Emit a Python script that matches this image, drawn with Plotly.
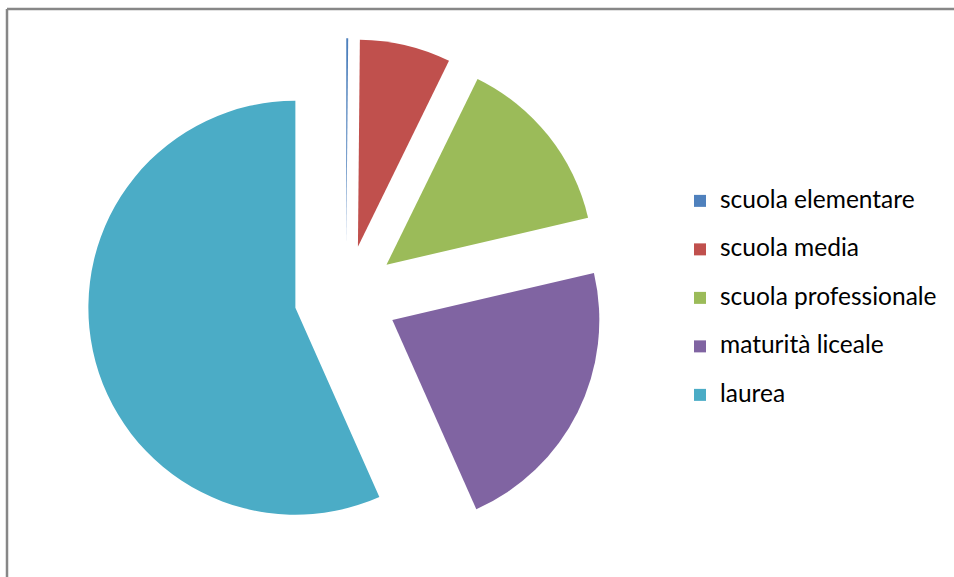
import plotly.graph_objects as go

categories = ["scuola elementare", "scuola media", "scuola professionale", "maturità liceale", "laurea"]
values = [0.15, 7.1, 14.1, 22.0, 56.65]
colors = ["#4F81BD", "#C0504D", "#9BBB59", "#8064A2", "#4BACC6"]
pulls = [0.25, 0.25, 0.25, 0.25, 0.25]

W, H = 954, 577
cx, cy, r, pull = 346, 297, 207, 0.25
half = r * (1 + pull)

legend_labels = ['<span style="font-size:24.5px">%s</span><br>\u00a0' % c for c in categories]

fig = go.Figure(go.Pie(
    labels=legend_labels,
    values=values,
    marker=dict(colors=colors, line=dict(width=0)),
    pull=pulls,
    sort=False,
    direction="clockwise",
    rotation=0,
    textinfo="none",
    hoverinfo="none",
    domain=dict(x=[(cx - half) / W, (cx + half) / W],
                y=[(H - cy - half) / H, (H - cy + half) / H]),
))

border = dict(color="#878787", width=2.5)
fig.add_shape(type="line", xref="paper", yref="paper",
              x0=7 / W, x1=1.0, y0=1 - 9 / H, y1=1 - 9 / H, line=border)
fig.add_shape(type="line", xref="paper", yref="paper",
              x0=7 / W, x1=7 / W, y0=0.0, y1=1 - 9 / H, line=border)

fig.update_layout(
    width=W, height=H,
    margin=dict(l=0, r=0, t=0, b=0),
    paper_bgcolor="white",
    plot_bgcolor="white",
    showlegend=True,
    legend=dict(
        x=680 / W, xanchor="left",
        y=1 - 183 / H, yanchor="top",
        font=dict(family="Lato", size=17.5, color="#000000"),
        valign="top",
        bgcolor="rgba(0,0,0,0)",
    ),
)

fig.write_html("out.html", config={"displayModeBar": False})
